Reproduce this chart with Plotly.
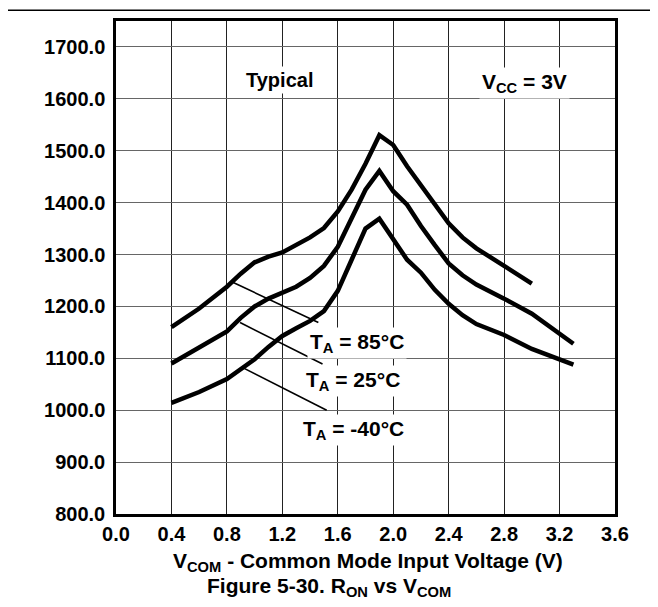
import plotly.graph_objects as go

# R_ON vs V_COM, typical, Vcc = 3V
vcom_85 = [0.4, 0.6, 0.8, 0.9, 1.0, 1.1, 1.2, 1.3, 1.4, 1.5, 1.6, 1.7, 1.8, 1.9, 2.0, 2.1, 2.2, 2.3, 2.4, 2.5, 2.6, 2.8, 3.0]
ron_85 = [1160, 1196, 1238, 1263, 1285, 1296, 1304, 1318, 1333, 1351, 1383, 1425, 1475, 1530, 1511, 1470, 1434, 1397, 1360, 1333, 1312, 1278, 1244]

vcom_25 = [0.4, 0.6, 0.8, 0.9, 1.0, 1.1, 1.2, 1.3, 1.4, 1.5, 1.6, 1.7, 1.8, 1.9, 2.0, 2.1, 2.2, 2.3, 2.4, 2.5, 2.6, 2.8, 3.0, 3.3]
ron_25 = [1090, 1120, 1152, 1178, 1200, 1215, 1227, 1238, 1255, 1278, 1315, 1370, 1425, 1461, 1422, 1396, 1355, 1318, 1283, 1260, 1242, 1215, 1186, 1128]

vcom_m40 = [0.4, 0.6, 0.8, 0.9, 1.0, 1.1, 1.2, 1.3, 1.4, 1.5, 1.6, 1.7, 1.8, 1.9, 2.0, 2.1, 2.2, 2.3, 2.4, 2.5, 2.6, 2.8, 3.0, 3.3]
ron_m40 = [1014, 1035, 1060, 1078, 1098, 1122, 1143, 1158, 1172, 1191, 1230, 1290, 1350, 1369, 1330, 1290, 1265, 1232, 1205, 1183, 1166, 1145, 1118, 1088]

# leader lines from each curve to its label: (x0, y0, x1, y1)
leader_85 = (0.846, 1246, 1.46, 1169)
leader_25 = (0.895, 1169, 1.49, 1089)
leader_m40 = (0.907, 1083, 1.52, 1000)

x_ticks = [0.0, 0.4, 0.8, 1.2, 1.6, 2.0, 2.4, 2.8, 3.2, 3.6]
y_ticks = [800, 900, 1000, 1100, 1200, 1300, 1400, 1500, 1600, 1700]

FONT = "Liberation Sans, Arial, Helvetica, sans-serif"

fig = go.Figure()
for xs, ys, name in [(vcom_85, ron_85, "85°C"), (vcom_25, ron_25, "25°C"), (vcom_m40, ron_m40, "-40°C")]:
    fig.add_trace(go.Scatter(x=xs, y=ys, mode="lines", name=name,
                             line=dict(color="black", width=4.5), showlegend=False))

shapes = []
for x0, y0, x1, y1 in [leader_85, leader_25, leader_m40]:
    shapes.append(dict(type="line", xref="x", yref="y", x0=x0, y0=y0, x1=x1, y1=y1,
                       line=dict(color="black", width=1.6)))
# rule across the top of the page
shapes.append(dict(type="line", xref="paper", yref="paper", x0=-0.25, x1=1.1, y0=1.022, y1=1.022,
                   line=dict(color="black", width=1.5)))

def label(text, x, y, xanchor="left", size=21, **kw):
    return dict(text=text, x=x, y=y, xref="x", yref="y", showarrow=False, xanchor=xanchor,
                yanchor="middle", bgcolor="white", borderpad=2,
                font=dict(family=FONT, size=size, color="black"), **kw)

annotations = [
    label("<b>Typical</b>", 1.18, 1636, xanchor="center", size=20),
    label("<b>V<sub>CC</sub> = 3V</b>", 2.95, 1630, xanchor="center"),
    label("<b>T<sub>A</sub> = 85°C</b>", 1.38, 1130),
    label("<b>T<sub>A</sub> = 25°C</b>", 1.35, 1056),
    label("<b>T<sub>A</sub> = -40°C</b>", 1.33, 962),
    dict(text="<b>V<sub>COM</sub> - Common Mode Input Voltage (V)</b>", x=0.505, y=-0.097,
         xref="paper", yref="paper", showarrow=False, xanchor="center", yanchor="middle",
         font=dict(family=FONT, size=21, color="black")),
    dict(text="<b>Figure 5-30. R<sub>ON</sub> vs V<sub>COM</sub></b>", x=0.426, y=-0.149,
         xref="paper", yref="paper", showarrow=False, xanchor="center", yanchor="middle",
         font=dict(family=FONT, size=21, color="black")),
]

# the page body adds an 8px margin, so the figure is 8px smaller each way
fig.update_layout(
    width=650, height=599,
    margin=dict(l=108, r=43, t=10, b=93),
    paper_bgcolor="white", plot_bgcolor="white",
    font=dict(family=FONT, color="black"),
    shapes=shapes, annotations=annotations,
    xaxis=dict(range=[0, 3.6], tickvals=x_ticks, tickformat=".1f",
               showgrid=True, gridcolor="#222", gridwidth=1,
               showline=True, linecolor="black", linewidth=2.5, mirror=True,
               ticks="", zeroline=False,
               tickfont=dict(family=FONT, size=20, color="black", weight="bold")),
    yaxis=dict(range=[800, 1750], tickvals=y_ticks, tickformat=".1f",
               showgrid=True, gridcolor="#666", gridwidth=1.3,
               showline=True, linecolor="black", linewidth=2.5, mirror=True,
               ticks="", zeroline=False, ticklabelstandoff=4,
               tickfont=dict(family=FONT, size=20, color="black", weight="bold")),
)

fig.write_html("out.html")
